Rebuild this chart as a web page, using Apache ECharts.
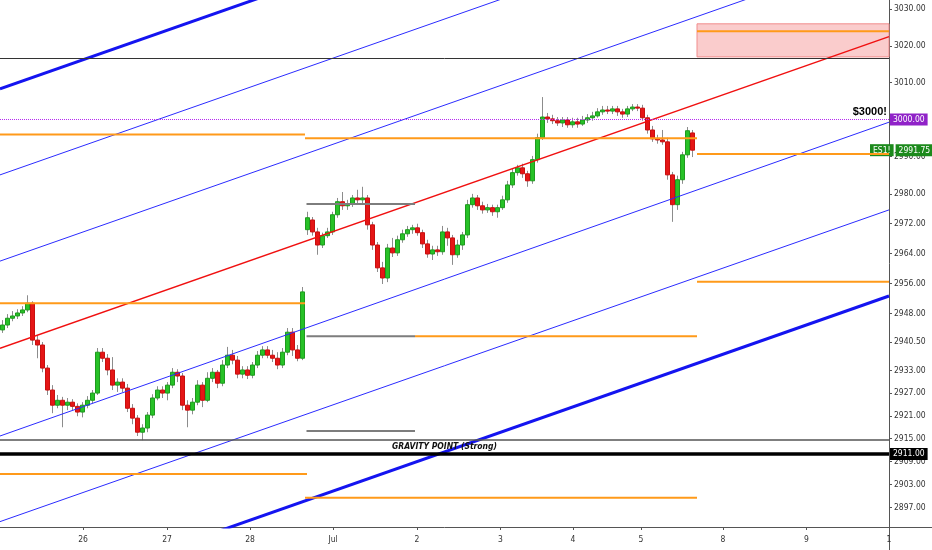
<!DOCTYPE html>
<html><head><meta charset="utf-8">
<script src="https://cdn.jsdelivr.net/npm/echarts@6/dist/echarts.min.js"></script>
<style>html,body{margin:0;padding:0;background:#fff}#c{width:932px;height:550px}</style>
</head><body><div id="c"></div>
<script>
// ES1! candles, one row per bar: [open, high, low, close]
const candles = [
[2943.7,2946.3,2942.9,2945.0],[2945.0,2947.9,2944.2,2946.8],[2946.8,2948.7,2946.0,2947.4],[2947.4,2949.2,2946.6,2948.2],
[2948.2,2950.0,2947.4,2949.0],[2949.0,2952.9,2948.4,2950.8],[2950.8,2951.3,2939.7,2941.0],[2941.0,2942.3,2936.2,2939.7],
[2939.7,2940.5,2932.5,2933.6],[2933.6,2934.4,2926.5,2927.8],[2927.8,2929.1,2921.7,2923.8],[2923.8,2926.5,2923.0,2925.1],
[2925.1,2926.0,2918.0,2923.8],[2923.8,2925.7,2922.5,2924.6],[2924.6,2925.4,2922.5,2923.5],[2923.5,2924.3,2920.9,2922.0],
[2922.0,2924.6,2920.6,2923.8],[2923.8,2926.2,2923.0,2925.1],[2925.1,2927.8,2924.3,2927.0],[2927.0,2938.9,2926.5,2937.8],
[2937.8,2938.9,2935.2,2936.2],[2936.2,2937.3,2931.7,2933.1],[2933.1,2936.5,2927.8,2929.1],[2929.1,2930.9,2927.3,2929.9],
[2929.9,2930.9,2927.3,2928.3],[2928.3,2929.4,2922.0,2923.0],[2923.0,2924.1,2918.8,2920.4],[2920.4,2921.2,2915.7,2916.7],
[2916.7,2918.8,2914.6,2917.8],[2917.8,2922.0,2916.7,2921.2],[2921.2,2926.7,2920.4,2925.7],[2925.7,2928.8,2925.1,2927.8],
[2927.8,2928.8,2925.7,2927.0],[2927.0,2929.9,2925.1,2929.1],[2929.1,2933.6,2928.3,2932.5],[2932.5,2933.3,2929.9,2931.5],
[2931.5,2932.3,2922.5,2923.8],[2923.8,2925.1,2918.0,2922.5],[2922.5,2925.7,2921.4,2924.6],[2924.6,2930.4,2923.8,2929.1],
[2929.1,2929.9,2923.3,2925.1],[2925.1,2932.5,2924.6,2930.9],[2930.9,2933.6,2929.9,2932.5],[2932.5,2933.1,2928.3,2929.6],
[2929.6,2935.7,2928.8,2934.4],[2934.4,2939.2,2933.6,2937.0],[2937.0,2938.4,2934.6,2935.7],[2935.7,2936.8,2930.9,2932.0],
[2932.0,2934.1,2930.9,2933.1],[2933.1,2934.1,2930.7,2931.7],[2931.7,2935.2,2930.9,2934.4],[2934.4,2938.1,2933.6,2937.0],
[2937.0,2939.4,2936.2,2938.4],[2938.4,2939.4,2936.2,2937.0],[2937.0,2938.4,2935.2,2936.2],[2936.2,2937.8,2933.3,2934.4],
[2934.4,2938.9,2933.6,2937.8],[2937.8,2944.2,2937.0,2943.1],[2943.1,2944.2,2936.8,2938.4],[2938.4,2939.7,2935.4,2936.2],
[2936.2,2955.1,2935.7,2953.8],[2970.4,2975.2,2969.0,2973.6],[2973.0,2973.8,2968.8,2969.8],[2969.8,2970.9,2963.7,2966.3],
[2966.3,2969.6,2965.5,2968.8],[2968.8,2970.9,2968.2,2969.8],[2969.8,2975.2,2969.0,2974.4],[2974.4,2978.9,2973.6,2977.9],
[2977.9,2980.5,2975.7,2976.8],[2976.8,2978.4,2975.7,2977.3],[2977.3,2979.7,2976.5,2978.9],[2978.9,2981.1,2977.3,2978.4],
[2978.4,2981.9,2977.3,2978.9],[2978.9,2979.7,2970.4,2971.7],[2971.7,2972.5,2965.0,2966.3],[2966.3,2967.1,2959.1,2960.2],
[2960.2,2961.8,2955.9,2957.5],[2957.5,2966.6,2956.4,2965.5],[2965.5,2968.2,2963.1,2964.2],[2964.2,2968.8,2963.4,2967.7],
[2967.7,2970.4,2966.9,2969.3],[2969.3,2971.4,2968.5,2970.4],[2970.4,2971.7,2969.3,2970.9],[2970.9,2972.0,2968.8,2969.6],
[2969.6,2970.4,2965.5,2966.6],[2966.6,2967.7,2962.9,2963.9],[2963.9,2966.1,2962.3,2965.0],[2965.0,2966.1,2963.4,2964.5],
[2964.5,2971.4,2963.7,2969.8],[2969.8,2970.9,2966.1,2968.2],[2968.2,2969.0,2961.0,2963.7],[2963.7,2967.7,2962.9,2966.3],
[2966.3,2969.8,2965.0,2969.0],[2969.0,2978.4,2968.2,2977.1],[2977.1,2980.0,2976.3,2978.9],[2978.9,2979.7,2975.7,2976.8],
[2976.8,2977.9,2974.7,2975.7],[2975.7,2977.3,2974.9,2976.3],[2976.3,2977.1,2974.1,2975.2],[2975.2,2977.1,2973.6,2976.3],
[2976.3,2979.5,2975.7,2978.4],[2978.4,2983.5,2977.6,2982.4],[2982.4,2986.7,2981.6,2985.7],[2985.7,2987.8,2984.9,2987.0],
[2987.0,2988.1,2984.3,2985.4],[2985.4,2986.2,2981.9,2983.5],[2983.5,2990.2,2982.7,2989.2],[2989.2,2996.2,2988.4,2995.1],
[2995.1,3006.1,2994.5,3000.7],[3000.7,3001.8,2999.1,3000.2],[3000.2,3001.3,2998.8,2999.7],[2999.7,3000.7,2998.3,2999.1],
[2999.1,3000.7,2998.0,2999.9],[2999.9,3000.7,2997.8,2998.6],[2998.6,3000.5,2997.8,2999.4],[2999.4,3000.5,2997.8,2998.8],
[2998.8,3001.0,2998.3,2999.9],[2999.9,3001.5,2999.1,3000.5],[3000.5,3002.1,2999.7,3001.0],[3001.0,3003.1,3000.5,3002.1],
[3002.1,3003.7,3001.3,3002.6],[3002.6,3003.7,3001.5,3002.3],[3002.3,3003.7,3001.5,3002.9],[3002.9,3003.7,3001.0,3002.1],
[3002.1,3002.9,3000.5,3001.5],[3001.5,3003.7,3000.7,3002.9],[3002.9,3004.2,3002.3,3003.4],[3003.4,3004.2,3002.3,3003.1],
[3003.1,3004.0,2999.7,3000.5],[3000.5,3001.3,2996.2,2997.2],[2997.2,2998.3,2994.0,2994.8],[2994.8,2995.9,2993.5,2994.5],
[2994.5,2997.2,2993.2,2994.0],[2994.0,2995.1,2983.8,2985.1],[2985.1,2985.9,2972.5,2977.1],[2977.1,2984.9,2975.7,2983.8],
[2983.8,2991.3,2982.7,2990.5],[2990.5,2998.0,2989.7,2997.0],[2996.4,2997.2,2989.9,2991.75]
];

// x axis (bar index units) day labels
const xLabels = ['26','27','28','Jul','2','3','4','5','8','9','1'];
const xLabelPos = [16.1, 32.9, 49.5, 66.1, 82.9, 99.6, 114.1, 127.7, 144.1, 160.8, 177.3];
const xRange = [-0.5, 177.3];

// price scale ticks
const yTicks = [3030,3020,3010,3000,2990,2980,2972,2964,2956,2948,2940.5,2933,2927,2921,2915,2911,2909,2903,2897];
const yRange = [2891.9, 3032.5];

// parallel channel: [price at left edge, price at right edge]
const channelThick = [[3008.3, 3094.0], [2870.9, 2952.7]];
const channelThin = [[2985.1, 3070.1], [2962.0, 3046.4], [2915.7, 2999.3], [2893.3, 2975.7]];
const medianLine = [2938.8, 3022.5];

// horizontal segments: [fromBar, toBar, price]
const orangeLevels = [
  [-0.5, 60.5, 2996.0], [60.5, 138.9, 2995.0], [138.9, 177.3, 2990.75], [138.9, 177.3, 3024.0],
  [138.9, 177.3, 2956.5], [-0.5, 60.5, 2950.75], [82.5, 138.9, 2942.0], [-0.5, 60.9, 2905.75], [60.5, 138.9, 2899.5]
];
const grayLevels = [[60.8, 82.5, 2977.25], [60.8, 82.5, 2942.0], [60.8, 82.5, 2917.0]];

// full-width levels
const resistanceLevel = 3016.5;
const targetLevel = 3000;
const gravityLevel = 2914.6;
const supportLevel = 2911;
const lastPrice = 2991.75;
const targetZone = [138.9, 177.3, 3017.0, 3026.0];

const FONT = "'Liberation Sans Narrow','DejaVu Sans Condensed','Liberation Sans',sans-serif";
const HIDDEN = { color: 'rgba(0,0,0,0)', width: 1, type: 'solid' };

const wickData = candles.map((d, i) => [i, d[0], d[3], d[2], d[1]]);
const bodyData = candles.map((d, i) => [i, d[0], d[3], Math.min(d[0], d[3]), Math.max(d[0], d[3])]);

function seg(data, color, width, z) {
  return { type: 'line', data: data, showSymbol: false, symbol: 'none', silent: true, clip: true, z: z || 4,
           lineStyle: { color: color, width: width }, animation: false };
}

const boxText = { color: '#fff', fontFamily: FONT, fontSize: 8.5, padding: [2, 3, 1, 3] };

const series = [
  {
    type: 'candlestick', data: wickData, encode: { x: 0, y: [1, 2, 3, 4] }, barWidth: 1, z: 2, silent: true,
    itemStyle: { color: '#8c8c8c', color0: '#8c8c8c', borderColor: '#8c8c8c', borderColor0: '#8c8c8c', borderWidth: 1 },
    markArea: {
      silent: true,
      itemStyle: { color: 'rgba(246,170,170,0.6)', borderColor: '#f08c8c', borderWidth: 1 },
      data: [[{ coord: [targetZone[0], targetZone[3]] }, { coord: [targetZone[1], targetZone[2]] }]]
    },
    markLine: {
      silent: true, symbol: ['none', 'none'], animation: false,
      data: [
        { yAxis: resistanceLevel, lineStyle: { color: '#333', width: 1, type: 'solid' }, label: { show: false } },
        { yAxis: targetLevel, lineStyle: { color: '#b52cf0', width: 1, type: 'dotted' },
          label: { show: true, position: 'insideEndTop', formatter: '$3000!', fontFamily: 'Liberation Sans, sans-serif',
                   fontWeight: 'bold', fontSize: 11, color: '#000', distance: 2 } },
        { yAxis: targetLevel, lineStyle: HIDDEN,
          label: Object.assign({ show: true, position: 'end', distance: 1, formatter: '3000.00', backgroundColor: '#9022c8' }, boxText) },
        { yAxis: lastPrice, lineStyle: HIDDEN,
          label: { show: true, position: 'end', distance: 1, offset: [-20, 0], formatter: '{a|ES1!}{g|}{b|2991.75}',
                   rich: {
                     a: Object.assign({ backgroundColor: '#1c8a1c' }, boxText),
                     g: { width: 2 },
                     b: Object.assign({ backgroundColor: '#1c8a1c' }, boxText)
                   } } },
        { yAxis: gravityLevel, lineStyle: { color: '#555', width: 1.5, type: 'solid' },
          label: { show: true, position: 'insideMiddleBottom', formatter: 'GRAVITY POINT (Strong)', distance: 2,
                   fontFamily: FONT, fontStyle: 'italic', fontWeight: 'bold', fontSize: 8.5, color: '#111' } },
        { yAxis: supportLevel, lineStyle: { color: '#000', width: 3.5, type: 'solid' },
          label: Object.assign({ show: true, position: 'end', distance: 1, formatter: '2911.00', backgroundColor: '#000' }, boxText) }
      ]
    }
  },
  {
    type: 'candlestick', data: bodyData, encode: { x: 0, y: [1, 2, 3, 4] }, barWidth: 4, z: 3, silent: true,
    itemStyle: { color: '#27c227', color0: '#e51616', borderColor: '#1f9a1f', borderColor0: '#c81010', borderWidth: 1 }
  }
];

orangeLevels.forEach(l => series.push(seg([[l[0], l[2]], [l[1], l[2]]], '#ff9a1a', 2, 5)));
grayLevels.forEach(l => series.push(seg([[l[0], l[2]], [l[1], l[2]]], '#7d7d7d', 2, 5)));
channelThick.forEach(c => series.push(seg([[xRange[0], c[0]], [xRange[1], c[1]]], '#1414f0', 3, 4)));
channelThin.forEach(c => series.push(seg([[xRange[0], c[0]], [xRange[1], c[1]]], '#2b2bff', 1, 4)));
series.push(seg([[xRange[0], medianLine[0]], [xRange[1], medianLine[1]]], '#f01010', 1.5, 4));

const chart = echarts.init(document.getElementById('c'), null, { renderer: 'canvas' });
chart.setOption({
  animation: false,
  backgroundColor: '#fff',
  grid: { left: 0, top: 0, right: 43, bottom: 23 },
  xAxis: {
    type: 'value', min: xRange[0], max: xRange[1],
    axisLine: { show: true, onZero: false, lineStyle: { color: '#555', width: 1 } },
    axisTick: { show: true, customValues: xLabelPos, length: 3, lineStyle: { color: '#555' } },
    axisLabel: { customValues: xLabelPos, fontFamily: FONT, fontSize: 8.5, color: '#333', margin: 8,
      formatter: v => { const i = xLabelPos.findIndex(p => Math.abs(p - v) < 0.01); return i >= 0 ? xLabels[i] : ''; } },
    splitLine: { show: false }
  },
  yAxis: {
    type: 'log', logBase: 10, position: 'right', min: yRange[0], max: yRange[1],
    axisLine: { show: true, onZero: false, lineStyle: { color: '#555', width: 1 } },
    axisTick: { show: true, customValues: yTicks, length: 3, lineStyle: { color: '#555' } },
    axisLabel: { customValues: yTicks, fontFamily: FONT, fontSize: 8.5, color: '#333', margin: 5,
      formatter: v => Number(v).toFixed(2) },
    splitLine: { show: false }
  },
  graphic: [
    { type: 'line', shape: { x1: 889.5, y1: 527, x2: 889.5, y2: 550 }, style: { stroke: '#555', lineWidth: 1 }, silent: true },
    { type: 'line', shape: { x1: 889, y1: 527.5, x2: 932, y2: 527.5 }, style: { stroke: '#555', lineWidth: 1 }, silent: true }
  ],
  series: series
});
</script>
</body></html>
